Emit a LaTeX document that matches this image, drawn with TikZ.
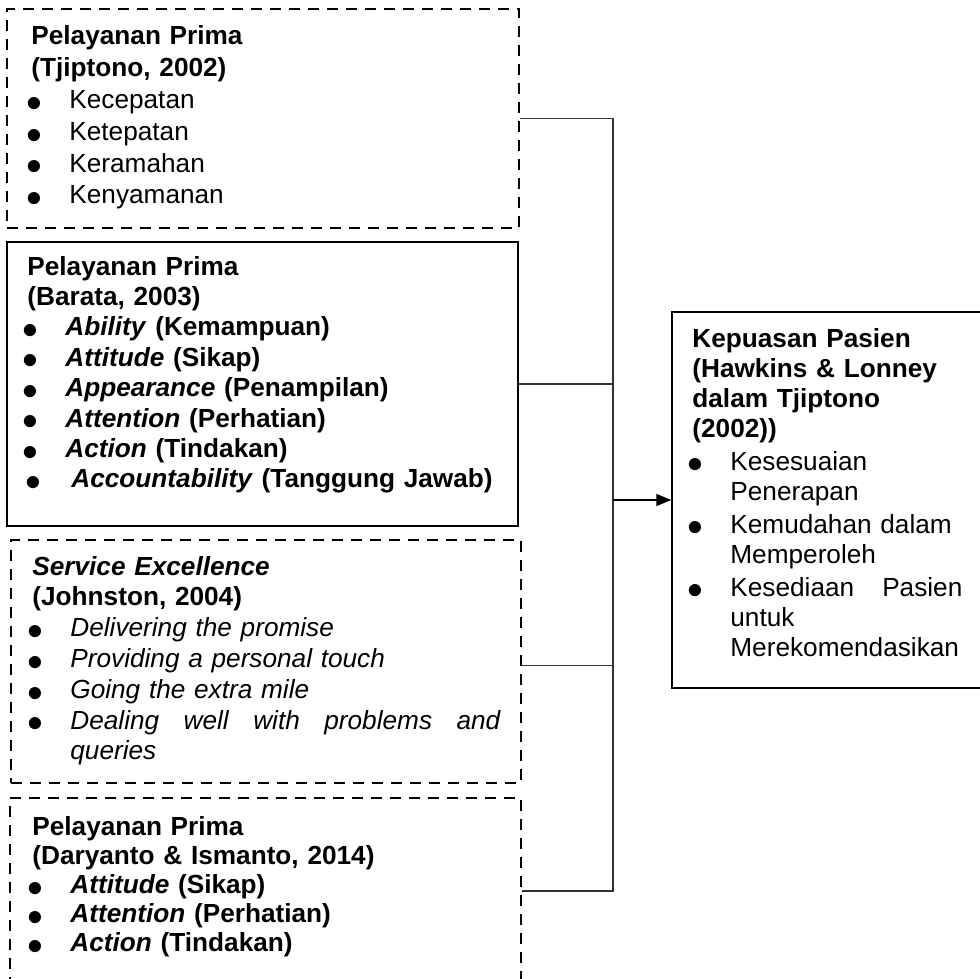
\documentclass[tikz,border=0pt]{standalone}
\usepackage{graphicx}
\usepackage{fontspec}
\setmainfont{Liberation Sans}
\usetikzlibrary{arrows.meta,fit}

\newcommand{\bul}[2][0pt]{\par\hangindent=19pt\hangafter=1\hspace*{#1}%
  \makebox[19pt][l]{\hspace*{-2.4pt}\raisebox{-1.4pt}{\scalebox{1.32}{$\bullet$}}}\hspace*{#1}#2\par}

\tikzset{
  dashbox/.style={draw, line width=1.3pt, dash pattern=on 5.5pt off 4pt, inner sep=0pt},
  solidbox/.style={draw, line width=0.75pt, inner sep=0pt},
  txt/.style={anchor=base west, inner sep=0pt, align=left, font=\fontsize{13.1}{#1}\selectfont},
  txt/.default=15.5,
  link/.style={line width=0.55pt, black!80}
}

\begin{document}
\begin{tikzpicture}[x=0.5pt,y=-0.5pt]
\useasboundingbox (0,0) rectangle (980,979);
\clip (0,0) rectangle (980,979);

\node[dashbox, fit={(7,9) (519,228)}] (tji) {};
\node[solidbox, fit={(7,242) (518,526)}] (bar) {};
\node[dashbox, fit={(11,540) (521,783)}] (joh) {};
\node[dashbox, fit={(10,798) (521,984)}] (dar) {};
\node[solidbox, fit={(672,312) (990,688)}] (kp) {};

\node[txt=15.9, text width=240pt] (tjilist) at (31,45)
  {\textbf{Pelayanan Prima}\newline\textbf{(Tjiptono, 2002)}%
   \bul{Kecepatan}\bul{Ketepatan}\bul{Keramahan}\bul{Kenyamanan}};
\node[txt=15.2, text width=244pt] (barlist) at (27,275)
  {\bfseries Pelayanan Prima\newline(Barata, 2003)%
   \bul{\textit{Ability} (Kemampuan)}\bul{\textit{Attitude} (Sikap)}%
   \bul{\textit{Appearance} (Penampilan)}\bul{\textit{Attention} (Perhatian)}%
   \bul{\textit{Action} (Tindakan)}\bul[1.5pt]{\textit{Accountability} (Tanggung Jawab)}};
\node[txt=15.4, text width=234pt] (johlist) at (32,575)
  {\textbf{\textit{Service Excellence}}\newline\textbf{(Johnston, 2004)}%
   \bul{\textit{Delivering the promise}}\bul{\textit{Providing a personal touch}}%
   \bul{\textit{Going the extra mile}}%
   \bul{\textit{Dealing\hfill well\hfill with\hfill problems\hfill and\newline queries}}};
\node[txt=14.6, text width=240pt] (darlist) at (32,835)
  {\bfseries Pelayanan Prima\newline(Daryanto \& Ismanto, 2014)%
   \bul{\textit{Attitude} (Sikap)}\bul{\textit{Attention} (Perhatian)}%
   \bul{\textit{Action} (Tindakan)}};
\node[txt=15, text width=135pt] (kplist) at (692,347)
  {\setlength{\parskip}{1.5pt}%
   \textbf{Kepuasan Pasien}\newline\textbf{(Hawkins \& Lonney}\newline
   \textbf{dalam Tjiptono}\newline\textbf{(2002))}%
   \bul{Kesesuaian\newline Penerapan}\bul{Kemudahan dalam\newline Memperoleh}%
   \bul{Kesediaan\hfill Pasien\newline untuk\newline Merekomendasikan}};

\coordinate (bus) at (613,0);
\draw[link] (tji.east) -- (tji.east -| bus) -- (dar.east -| bus) -- (dar.east);
\draw[link] (bar.east) -- (bar.east -| bus);
\draw[link] ([yshift=-2.2pt]joh.east) -- ([yshift=-2.2pt]joh.east -| bus);
\draw[-{Triangle[length=7.5pt,width=6pt]}, line width=0.9pt] (kp.west -| bus) -- (kp.west);
\end{tikzpicture}
\end{document}
